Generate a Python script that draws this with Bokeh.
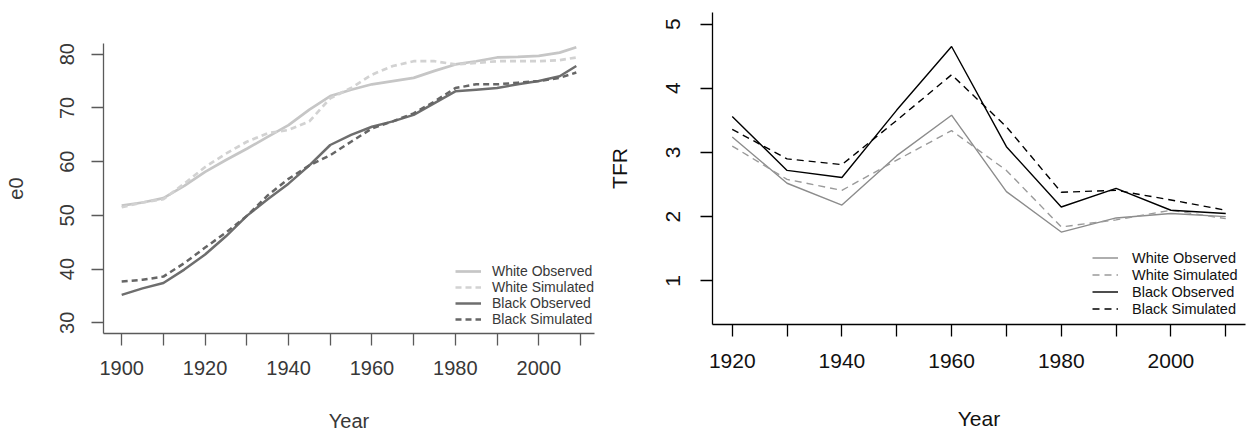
from bokeh.plotting import figure
from bokeh.layouts import row, column
from bokeh.models import FixedTicker, Legend, LegendItem, Range1d
from bokeh.embed import file_html
from bokeh.resources import INLINE

# ---- Left panel: life expectancy e0 ----
e0_years = [1900, 1905, 1910, 1915, 1920, 1925, 1930, 1935, 1940, 1945, 1950,
            1955, 1960, 1965, 1970, 1975, 1980, 1985, 1990, 1995, 2000, 2005, 2009]
e0_white_obs = [51.8, 52.4, 53.2, 55.5, 58.1, 60.3, 62.4, 64.6, 66.8, 69.7, 72.2,
                73.4, 74.4, 75.0, 75.6, 76.9, 78.1, 78.7, 79.4, 79.5, 79.7, 80.3, 81.3]
e0_white_sim = [51.5, 52.4, 53.0, 55.9, 59.0, 61.5, 63.7, 65.3, 65.9, 67.5, 71.8,
                73.7, 76.2, 77.8, 78.7, 78.7, 78.1, 78.4, 78.7, 78.7, 78.7, 78.9, 79.4]
e0_black_obs = [35.2, 36.4, 37.4, 39.9, 42.7, 46.1, 49.9, 53.0, 55.9, 59.3, 63.1,
                65.0, 66.5, 67.5, 68.7, 70.9, 73.1, 73.4, 73.7, 74.4, 75.0, 75.9, 77.8]
e0_black_sim = [37.7, 38.0, 38.6, 41.1, 44.0, 46.8, 49.9, 53.7, 56.8, 59.3, 61.2,
                63.7, 66.2, 67.5, 69.0, 71.2, 73.7, 74.4, 74.4, 74.7, 75.0, 75.6, 76.6]
e0_xticks = [1900, 1910, 1920, 1930, 1940, 1950, 1960, 1970, 1980, 1990, 2000, 2010]
e0_xlabels = ["1900", "", "1920", "", "1940", "", "1960", "", "1980", "", "2000", ""]
e0_yticks = [30, 40, 50, 60, 70, 80]

# ---- Right panel: TFR ----
tfr_years = [1920, 1930, 1940, 1950, 1960, 1970, 1980, 1990, 2000, 2010]
tfr_white_obs = [3.24, 2.52, 2.18, 2.95, 3.58, 2.39, 1.76, 1.98, 2.05, 2.00]
tfr_white_sim = [3.10, 2.58, 2.41, 2.88, 3.34, 2.72, 1.84, 1.95, 2.10, 1.97]
tfr_black_obs = [3.56, 2.72, 2.61, 3.66, 4.65, 3.09, 2.15, 2.44, 2.10, 2.05]
tfr_black_sim = [3.36, 2.90, 2.81, 3.50, 4.21, 3.40, 2.38, 2.41, 2.26, 2.10]
tfr_xticks = [1920, 1930, 1940, 1950, 1960, 1970, 1980, 1990, 2000, 2010]
tfr_xlabels = ["1920", "", "1940", "", "1960", "", "1980", "", "2000", ""]
tfr_yticks = [1, 2, 3, 4, 5]

labels = ["White Observed", "White Simulated", "Black Observed", "Black Simulated"]

FONT = "Liberation Sans"


def style_axes(p, font_px, tick_color, line_color, x_ls, x_als, y_ls, y_als):
    for ax in (p.xaxis[0], p.yaxis[0]):
        ax.axis_line_color = line_color
        ax.axis_line_width = 1.3
        ax.major_tick_line_color = line_color
        ax.major_tick_line_width = 1.3
        ax.major_tick_out = 12
        ax.major_tick_in = 0
        ax.minor_tick_out = 0
        ax.minor_tick_line_color = None
        ax.major_label_text_font = FONT
        ax.major_label_text_font_size = f"{font_px}px"
        ax.major_label_text_color = tick_color
        ax.axis_label_text_font = FONT
        ax.axis_label_text_font_size = f"{font_px}px"
        ax.axis_label_text_font_style = "normal"
        ax.axis_label_text_color = tick_color
    p.xaxis[0].major_label_standoff = x_ls
    p.xaxis[0].axis_label_standoff = x_als
    p.yaxis[0].major_label_standoff = y_ls
    p.yaxis[0].axis_label_standoff = y_als
    p.yaxis[0].major_label_orientation = "parallel"
    p.xgrid.grid_line_color = None
    p.ygrid.grid_line_color = None
    p.outline_line_color = None


# ----- left figure -----
p1 = figure(frame_width=491, frame_height=290, output_backend="svg", toolbar_location=None,
            x_range=Range1d(1895.64, 2013.36), y_range=Range1d(28.0, 82.0),
            min_border_left=103, min_border_right=8, min_border_top=43,
            min_border_bottom=98, x_axis_label="Year", y_axis_label="e0")
p1.xaxis.ticker = FixedTicker(ticks=e0_xticks)
p1.xaxis.major_label_overrides = {t: l for t, l in zip(e0_xticks, e0_xlabels)}
p1.yaxis.ticker = FixedTicker(ticks=e0_yticks)
style_axes(p1, 20, "#383838", "#5a5a5a", 15, 32, 17, 35)

r1 = p1.line(e0_years, e0_white_obs, line_color="#c6c6c6", line_width=2.7)
r2 = p1.line(e0_years, e0_white_sim, line_color="#d2d2d2", line_width=2.7, line_dash="6 4")
r3 = p1.line(e0_years, e0_black_obs, line_color="#6e6e6e", line_width=2.5)
r4 = p1.line(e0_years, e0_black_sim, line_color="#666666", line_width=2.5, line_dash="6 4")
leg1 = Legend(items=[LegendItem(label=l, renderers=[r]) for l, r in zip(labels, [r1, r2, r3, r4])],
              location=(352, 6), margin=0, padding=0, spacing=0,
              glyph_width=26, glyph_height=16, label_height=16, label_standoff=11,
              label_text_font=FONT, label_text_font_size="14px", label_text_color="#383838",
              border_line_color=None, background_fill_alpha=0)
p1.add_layout(leg1)

# ----- right figure -----
p2 = figure(frame_width=533, frame_height=312, output_backend="svg", toolbar_location=None,
            x_range=Range1d(1916.4, 2013.6), y_range=Range1d(0.32, 5.18),
            min_border_left=110, min_border_right=1, min_border_top=12,
            min_border_bottom=107, x_axis_label="Year", y_axis_label="TFR")
p2.xaxis.ticker = FixedTicker(ticks=tfr_xticks)
p2.xaxis.major_label_overrides = {t: l for t, l in zip(tfr_xticks, tfr_xlabels)}
p2.yaxis.ticker = FixedTicker(ticks=tfr_yticks)
style_axes(p2, 21, "#111111", "#000000", 17, 36, 20, 33)

s1 = p2.line(tfr_years, tfr_white_obs, line_color="#8c8c8c", line_width=1.4)
s2 = p2.line(tfr_years, tfr_white_sim, line_color="#9a9a9a", line_width=1.4, line_dash="7 5")
s3 = p2.line(tfr_years, tfr_black_obs, line_color="#000000", line_width=1.4)
s4 = p2.line(tfr_years, tfr_black_sim, line_color="#000000", line_width=1.4, line_dash="7 5")
leg2 = Legend(items=[LegendItem(label=l, renderers=[r]) for l, r in zip(labels, [s1, s2, s3, s4])],
              location=(380, 7), margin=0, padding=0, spacing=0,
              glyph_width=26, glyph_height=17, label_height=17, label_standoff=14,
              label_text_font=FONT, label_text_font_size="14.5px", label_text_color="#111111",
              border_line_color=None, background_fill_alpha=0)
p2.add_layout(leg2)

layout = row(column(p1), column(p2))
open("out.html", "w").write(file_html(layout, INLINE))
